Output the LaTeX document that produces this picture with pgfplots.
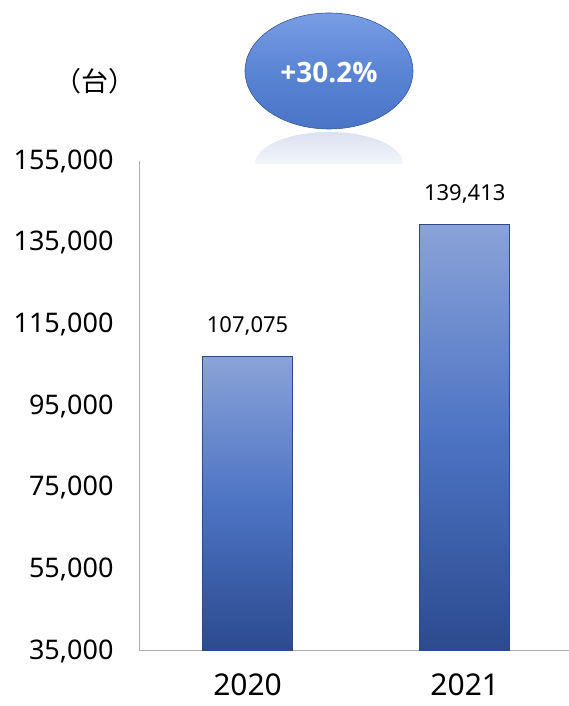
\documentclass[border=0pt]{standalone}
\usepackage{fontspec}
\setmainfont{Noto Sans}
\newfontfamily\pctfont{Open Sans}
\newfontfamily\cjk{Noto Sans CJK JP}
\usepackage{pgfplots}
\pgfplotsset{compat=1.18}
\definecolor{bartop}{HTML}{8AA3D8}
\definecolor{barmid}{HTML}{4C73C3}
\definecolor{barbot}{HTML}{2C4A8E}
\definecolor{barline}{HTML}{2E4A86}
\definecolor{ovaltop}{HTML}{789DE4}
\definecolor{ovalmid}{HTML}{5A84D4}
\definecolor{ovalbot}{HTML}{4A74C6}

\begin{document}
\begin{tikzpicture}[x=1pt,y=1pt]
\useasboundingbox (0,0) rectangle (569,706);
% reflection under the oval
\begin{scope}
  \clip (240,542) rectangle (420,575);
  \shade[top color={rgb,255:red,218;green,225;blue,240}, bottom color=white,
         middle color={rgb,255:red,243;green,245;blue,250}]
    (329,542) ellipse [x radius=74, y radius=32];
\end{scope}
% oval with growth rate
\shade[top color=ovaltop, bottom color=ovalbot, middle color=ovalmid,
       draw=ovalbot!75!black, line width=0.6pt]
  (329,635) ellipse [x radius=84, y radius=58];
\node[text=white, font=\pctfont\bfseries\fontsize{28}{28}\selectfont] at (329,633) {+30.2\%};
% unit label
\node[font=\cjk\fontsize{27}{27}\selectfont] at (95,625) {（台）};

\begin{axis}[
  at={(139pt,55pt)}, anchor=south west,
  scale only axis, width=430pt, height=490pt,
  ybar, bar width=90pt, bar shift=0pt,
  xmin=-0.5, xmax=1.48,
  xtick={0,1}, xticklabels={2020,2021},
  ymin=35000, ymax=155000,
  ytick={35000,55000,75000,95000,115000,135000,155000},
  scaled y ticks=false,
  axis x line*=bottom, axis y line*=left,
  axis line style={draw=gray!65, line width=1pt, -},
  major tick length=0pt,
  /pgf/number format/assume math mode=true,
  /pgf/number format/fixed,
  /pgf/number format/1000 sep={,},
  y tick label style={font=\fontsize{27}{27}\selectfont, xshift=-22pt},
  x tick label style={font=\fontsize{30}{30}\selectfont, yshift=-19pt},
  nodes near coords,
  nodes near coords style={font=\fontsize{22}{22}\selectfont, yshift=18pt, text=black},
  barstyle/.style={top color=bartop, bottom color=barbot, middle color=barmid,
    draw=barline, line width=0.8pt},
]
\addplot[barstyle] coordinates {(0,107075)};
\addplot[barstyle] coordinates {(1,139413)};
\end{axis}
\end{tikzpicture}
\end{document}
